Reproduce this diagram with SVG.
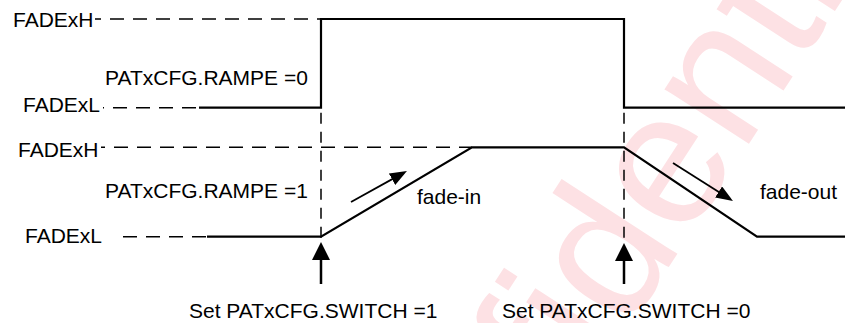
<svg xmlns="http://www.w3.org/2000/svg" width="845" height="323" viewBox="0 0 845 323">
<defs>
<style>
text{font-family:"Liberation Sans",Arial,sans-serif;font-size:21px;fill:#000}
.wm{font-size:190px;fill:#fde1e4}
.solid{stroke:#000;stroke-width:2.2;fill:none}
.dash{stroke:#000;stroke-width:1.5;fill:none;stroke-dasharray:14 9}
.vdash{stroke:#000;stroke-width:1.5;fill:none;stroke-dasharray:11 8}
.shaft{stroke:#000;stroke-width:2.5;fill:none}
.thin{stroke:#000;stroke-width:1.8;fill:none}
</style>
<marker id="bigHead" markerUnits="userSpaceOnUse" markerWidth="18" markerHeight="18" viewBox="0 0 18 18" refX="12" refY="9" orient="auto">
<path d="M0,0 L18,9 L0,18 z" fill="#000"/>
</marker>
<marker id="smallHead" markerUnits="userSpaceOnUse" markerWidth="17" markerHeight="13" viewBox="0 0 17 13" refX="11" refY="6.5" orient="auto">
<path d="M0,0 L17,6.5 L0,13 z" fill="#000"/>
</marker>
</defs>
<rect width="845" height="323" fill="#fff"/>
<g id="watermark"><text class="wm" transform="translate(385,704) rotate(-57)">Confidential</text></g>
<g id="level-labels">
<text x="13" y="27">FADExH</text>
<text x="23" y="112">FADExL</text>
<text x="18" y="156.5">FADExH</text>
<text x="25" y="243">FADExL</text>
</g>
<g id="mode-labels">
<text x="105" y="85">PATxCFG.RAMPE =0</text>
<text x="105" y="198">PATxCFG.RAMPE =1</text>
</g>
<g id="guides">
<line class="dash" x1="95" y1="19" x2="321" y2="19" stroke-dashoffset="8"/>
<line class="dash" x1="103" y1="107.7" x2="199" y2="107.7" stroke-dashoffset="13"/>
<line class="dash" x1="101" y1="147.3" x2="472" y2="147.3" stroke-dashoffset="10"/>
<line class="dash" x1="123" y1="236.7" x2="207" y2="236.7"/>
</g>
<g id="wave-rampe0">
<polyline class="solid" points="199,107.7 321,107.7 321,19 624,19 624,107.7 845,107.7"/>
</g>
<g id="wave-rampe1">
<polyline class="solid" points="207,236.7 321,236.7 472,147.3 624,147.3 757,236.7 845,236.7"/>
</g>
<g id="connectors">
<line class="vdash" x1="321" y1="107.7" x2="321" y2="242" stroke-dashoffset="14"/>
<line class="vdash" x1="624" y1="107.7" x2="624" y2="243" stroke-dashoffset="14"/>
<line class="shaft" x1="321" y1="284" x2="321" y2="248" marker-end="url(#bigHead)"/>
<line class="shaft" x1="624" y1="284" x2="624" y2="249" marker-end="url(#bigHead)"/>
<line class="thin" x1="351" y1="202" x2="401.7" y2="173.9" marker-end="url(#smallHead)"/>
<line class="thin" x1="673" y1="163" x2="727.9" y2="197.8" marker-end="url(#smallHead)"/>
</g>
<g id="annotations">
<text x="417" y="204">fade-in</text>
<text x="760" y="199">fade-out</text>
<text x="189" y="318">Set PATxCFG.SWITCH =1</text>
<text x="502" y="318">Set PATxCFG.SWITCH =0</text>
</g>
</svg>
